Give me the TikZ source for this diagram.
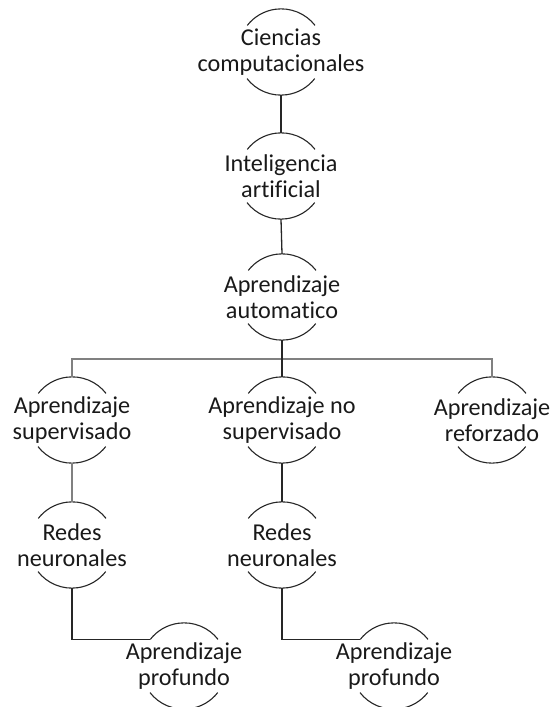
\documentclass[tikz,border=0pt]{standalone}
\usepackage{fontspec}
\setmainfont{Carlito}[RawFeature={-liga}]
\begin{document}
\begin{tikzpicture}[x=1pt,y=1pt,
  bub/.style={circle,minimum size=86pt,inner sep=0pt},
  txt/.style={align=center,font=\fontsize{24.2}{26.5}\selectfont,text=black!90,inner sep=0pt},
  arcline/.style={line width=1.1pt,draw=black!85},
  dark/.style={line width=1.3pt,draw=black!85},
  light/.style={line width=1.1pt,draw=black!50}]
\useasboundingbox (0,0) rectangle (550,707);
\newcommand{\bubble}[4]{%
  \node[bub] (#1) at (#2,#3) {};
  \node[txt] (#1t) at (#1) {#4};
  \draw[arcline] (#1.38) arc[start angle=38,end angle=142,radius=43pt];
  \draw[arcline] (#1.218) arc[start angle=218,end angle=322,radius=43pt];
}
\bubble{cc}{281}{655}{Ciencias\\computacionales}
\bubble{ia}{281}{531}{Inteligencia\\artificial}
\bubble{am}{282}{410}{Aprendizaje\\automatico}
\bubble{sup}{72}{287}{Aprendizaje\\supervisado}
\bubble{ns}{282}{287}{Aprendizaje no\\supervisado}
\bubble{ref}{492}{287}{Aprendizaje\\reforzado}
\bubble{ra}{72}{162}{Redes\\neuronales}
\bubble{rb}{282}{162}{Redes\\neuronales}
\bubble{pa}{184}{41}{Aprendizaje\\profundo}
\bubble{pb}{394}{41}{Aprendizaje\\profundo}
\coordinate (bus) at (282,348);
\draw[dark] (cc.south) -- (ia.north);
\draw[dark] (ia.south) -- (am.north);
\draw[light] (sup.north) -- (sup.north |- bus) -- (ref.north |- bus) -- (ref.north);
\draw[dark] (am.south) -- (ns.north);
\draw[light] (sup.south) -- (ra.north);
\draw[dark] (ns.south) -- (rb.north);
\draw[dark] (ra.south) |- (pa.142);
\draw[dark] (rb.south) |- (pb.142);
\end{tikzpicture}
\end{document}
